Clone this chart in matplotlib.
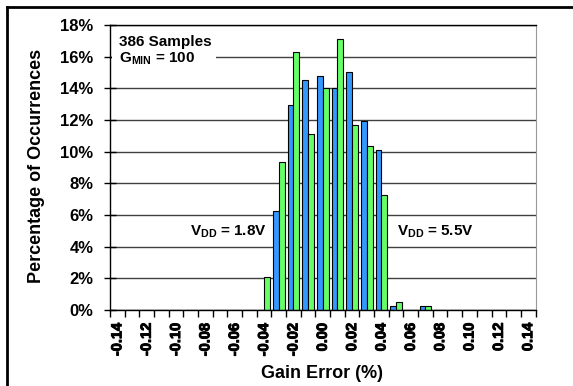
import numpy as np
import matplotlib.pyplot as plt
import matplotlib.patheffects as pe
from matplotlib.lines import Line2D
from matplotlib.patches import Rectangle

plt.rcParams['font.family'] = ['Liberation Sans', 'DejaVu Sans']
plt.rcParams['font.weight'] = 'bold'
plt.rcParams['mathtext.fontset'] = 'custom'
plt.rcParams['mathtext.rm'] = 'Liberation Sans:bold'
plt.rcParams['mathtext.bf'] = 'Liberation Sans:bold'

# gain error bins (%), one bar pair per bin
gain_error = [-0.14, -0.13, -0.12, -0.11, -0.10, -0.09, -0.08, -0.07, -0.06, -0.05,
              -0.04, -0.03, -0.02, -0.01, 0.00, 0.01, 0.02, 0.03, 0.04, 0.05,
              0.06, 0.07, 0.08, 0.09, 0.10, 0.11, 0.12, 0.13, 0.14]

# percentage of occurrences, 386 samples each
blue_pct = [0, 0, 0, 0, 0, 0, 0, 0, 0, 0,
            0, 6.22, 12.95, 14.51, 14.77, 13.99, 15.03, 11.92, 10.10, 0.26,
            0, 0.26, 0, 0, 0, 0, 0, 0, 0]
green_pct = [0, 0, 0, 0, 0, 0, 0, 0, 0, 0,
             2.07, 9.33, 16.32, 11.14, 13.99, 17.10, 11.66, 10.36, 7.25, 0.52,
             0, 0.26, 0, 0, 0, 0, 0, 0, 0]

fig = plt.figure(figsize=(5.73, 3.86), dpi=100)
ax = fig.add_axes([0.192, 0.197, 0.7426, 0.7383])

idx = np.arange(len(gain_error))
w = 0.4
ax.bar(idx - w / 2, blue_pct, w, color='#3399FF', edgecolor='black', linewidth=0.8, zorder=2)
ax.bar(idx + w / 2, green_pct, w, color='#66FF66', edgecolor='black', linewidth=0.8, zorder=2)

ax.set_xlim(-0.5, len(gain_error) - 0.5)
ax.set_ylim(0, 18)
ax.set_axisbelow(True)

ax.tick_params(axis='y', direction='inout', length=8, width=1, pad=8)
ax.tick_params(axis='x', which='major', length=0, pad=9)
ax.tick_params(axis='x', which='minor', direction='out', length=5, width=1)

yt = np.arange(0, 19, 2)
ax.set_yticks(yt)
ax.set_yticklabels(['%d%%' % v for v in yt], fontsize=12, fontweight='bold')
ax.yaxis.grid(True, color='#404040', linewidth=1)

major = idx[::2]
ax.set_xticks(major)
ax.set_xticks(np.arange(len(gain_error) + 1) - 0.5, minor=True)
ax.set_xticklabels(['%.2f' % gain_error[i] for i in major], rotation=90, fontsize=10.5)
# rotated labels render thin, thicken them a little
plt.setp(ax.get_xticklabels(), fontweight='bold',
         path_effects=[pe.withStroke(linewidth=0.7, foreground='black')])

for s in ['left', 'bottom', 'top']:
    ax.spines[s].set_color('black')
    ax.spines[s].set_linewidth(1)
ax.spines['right'].set_color('#999999')

ax.set_ylabel('Percentage of Occurrences', fontsize=13, fontweight='bold')
ax.set_xlabel('Gain Error (%)', fontsize=13, fontweight='bold')
ax.yaxis.set_label_coords(-0.153, 0.505)
ax.xaxis.set_label_coords(0.498, -0.193)

# white box behind the sample note
ax.add_patch(Rectangle((0.005, 0.856), 0.244, 0.126, transform=ax.transAxes,
                       facecolor='white', edgecolor='none', zorder=1))
ax.text(0.021, 0.965, '386 Samples\n$\\mathbf{G_{MIN}}$ = 100', transform=ax.transAxes,
        fontsize=11, fontweight='bold', va='top', ha='left', zorder=3, linespacing=1.15)

ax.text(4.95, 4.93, '$\\mathbf{V_{DD}}$ = 1.8V', fontsize=11, fontweight='bold',
        va='center', ha='left', zorder=3)
ax.text(19.06, 4.93, '$\\mathbf{V_{DD}}$ = 5.5V', fontsize=11, fontweight='bold',
        va='center', ha='left', zorder=3)

# outer frame, only left and top edges show
fig.add_artist(Line2D([0.0122, 0.0122], [0, 0.982], color='black', linewidth=2))
fig.add_artist(Line2D([0.0122, 1], [0.982, 0.982], color='black', linewidth=2))

fig.savefig('out.png', dpi=100)
